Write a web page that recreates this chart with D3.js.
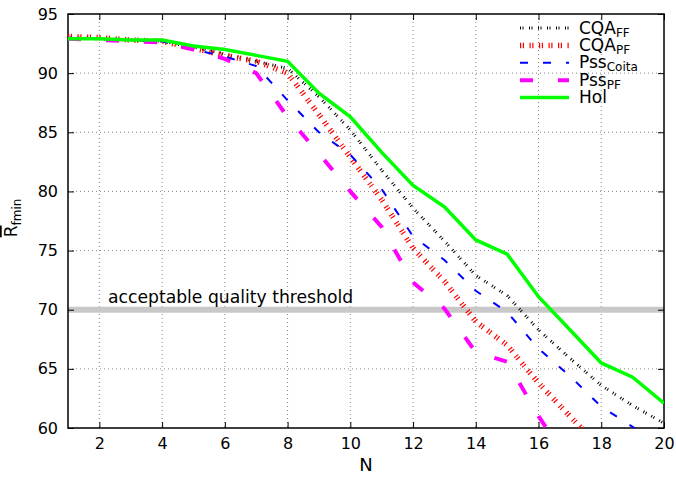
<!DOCTYPE html>
<html>
<head>
<meta charset="utf-8">
<script src="https://cdnjs.cloudflare.com/ajax/libs/d3/7.8.5/d3.min.js"></script>
<style>
  body { margin: 0; background: #fff; }
  text { font-family: "DejaVu Sans", sans-serif; }
</style>
</head>
<body>
<div id="chart"></div>
<script>
// data
var nValues = [1,2,3,4,5,6,7,8,9,10,11,12,13,14,15,16,17,18,19,20];
var cqaFF   = [93.0,92.9,92.8,92.7,92.2,91.6,91.0,90.4,88.0,85.2,81.8,78.6,75.8,72.9,71.2,68.3,65.9,63.6,61.9,60.4];
var cqaPF   = [93.1,93.0,92.8,92.7,92.1,91.5,91.0,90.0,86.5,82.9,79.3,75.2,72.4,69.0,67.0,63.8,61.0,58.2,56.0,54.0];
var pssCoita= [93.0,92.9,92.8,92.7,92.0,91.4,90.6,87.7,85.0,83.1,80.2,76.2,74.2,71.6,69.8,66.7,64.4,61.8,60.1,58.5];
var pssPF   = [92.9,92.8,92.7,92.6,92.0,91.2,90.0,86.3,83.2,80.0,77.0,72.3,70.1,66.4,65.6,61.0,57.0,54.0,52.0,50.0];
var hol     = [92.9,92.9,92.8,92.8,92.3,92.0,91.5,91.0,88.3,86.3,83.3,80.5,78.7,75.9,74.7,71.1,68.3,65.5,64.3,62.1];
var xTicks = [2,4,6,8,10,12,14,16,18,20];
var yTicks = [60,65,70,75,80,85,90,95];
var threshold = 70;

var series = [
  {name: "CQA", sub: "FF",    values: cqaFF,    color: "#000000", width: 3,   dash: "1,1.5,1,5.5"},
  {name: "CQA", sub: "PF",    values: cqaPF,    color: "#ff0000", width: 5.5, dash: "1.2,1.6,1.2,5.5"},
  {name: "Pss", sub: "Coita", values: pssCoita, color: "#0000ff", width: 2,   dash: "8,15"},
  {name: "Pss", sub: "PF",    values: pssPF,    color: "#ff00ff", width: 4,   dash: "13,25"},
  {name: "Hol", sub: "",      values: hol,      color: "#00ff00", width: 3.5, dash: null}
];

var W = 676, H = 477;
var margin = {left: 68, right: 12, top: 14, bottom: 49};
var pw = W - margin.left - margin.right, ph = H - margin.top - margin.bottom;

var svg = d3.select("#chart").append("svg").attr("width", W).attr("height", H);
var g = svg.append("g").attr("transform", "translate(" + margin.left + "," + margin.top + ")");

var x = d3.scaleLinear().domain([1, 20]).range([0, pw]);
var y = d3.scaleLinear().domain([60, 95]).range([ph, 0]);

svg.append("defs").append("clipPath").attr("id", "clip")
  .append("rect").attr("width", pw).attr("height", ph);

// grid
g.selectAll(".gx").data(xTicks.filter(function(d){ return d < 20; })).enter().append("line")
  .attr("x1", x).attr("x2", x).attr("y1", 0).attr("y2", ph)
  .attr("stroke", "#888").attr("stroke-width", 1).attr("stroke-dasharray", "1,3");
g.selectAll(".gy").data(yTicks.filter(function(d){ return d > 60 && d < 95; })).enter().append("line")
  .attr("y1", y).attr("y2", y).attr("x1", 0).attr("x2", pw)
  .attr("stroke", "#888").attr("stroke-width", 1).attr("stroke-dasharray", "1,3");

// threshold band
g.append("line").attr("x1", 0).attr("x2", pw).attr("y1", y(threshold)).attr("y2", y(threshold))
  .attr("stroke", "#c8c8c8").attr("stroke-width", 6);
g.append("text").attr("x", 40).attr("y", y(threshold) - 7)
  .attr("font-size", 17.2).text("acceptable quality threshold");

// axes
var xAxis = d3.axisBottom(x).tickValues(xTicks).tickSize(-6).tickPadding(10);
var yAxis = d3.axisLeft(y).tickValues(yTicks).tickSize(-6).tickPadding(10);
var gx = g.append("g").attr("transform", "translate(0," + ph + ")").call(xAxis);
var gy = g.append("g").call(yAxis);
g.append("g").call(d3.axisTop(x).tickValues(xTicks).tickSize(-6).tickFormat(""));
g.append("g").attr("transform", "translate(" + pw + ",0)")
  .call(d3.axisRight(y).tickValues(yTicks).tickSize(-6).tickFormat(""));
g.selectAll(".domain").remove();
g.selectAll(".tick line").attr("stroke", "#000");
[gx, gy].forEach(function(a){ a.selectAll("text").attr("font-size", 16).attr("fill", "#000").attr("font-family", "DejaVu Sans"); });
g.append("rect").attr("width", pw).attr("height", ph).attr("fill", "none").attr("stroke", "#000").attr("stroke-width", 1.5);

// lines
var line = d3.line().x(function(d, i){ return x(nValues[i]); }).y(function(d){ return y(d); });
var lg = g.append("g").attr("clip-path", "url(#clip)");
series.forEach(function(s){
  lg.append("path").datum(s.values).attr("d", line)
    .attr("fill", "none").attr("stroke", s.color).attr("stroke-width", s.width)
    .attr("stroke-dasharray", s.dash);
});

// legend
var leg = svg.append("g").attr("transform", "translate(520,28)");
series.forEach(function(s, i){
  var row = leg.append("g").attr("transform", "translate(0," + (i * 17.4) + ")");
  row.append("line").attr("x1", 0).attr("x2", 49).attr("y1", 0).attr("y2", 0)
    .attr("stroke", s.color).attr("stroke-width", s.width).attr("stroke-dasharray", s.dash);
  var t = row.append("text").attr("x", 59).attr("y", 5.5).attr("font-size", 17);
  t.append("tspan").text(s.name);
  if (s.sub) t.append("tspan").attr("font-size", 12).attr("dy", 3).text(s.sub);
});

// axis titles
svg.append("text").attr("x", margin.left + pw / 2).attr("y", 471).attr("text-anchor", "middle")
  .attr("font-size", 18).text("N");
var yl = svg.append("text").attr("transform", "translate(17,218) rotate(-90)")
  .attr("text-anchor", "middle").attr("font-size", 17);
yl.append("tspan").style("text-decoration", "overline").text("R");
yl.append("tspan").attr("font-size", 12).attr("dy", 4).text("fmin");
</script>
</body>
</html>
